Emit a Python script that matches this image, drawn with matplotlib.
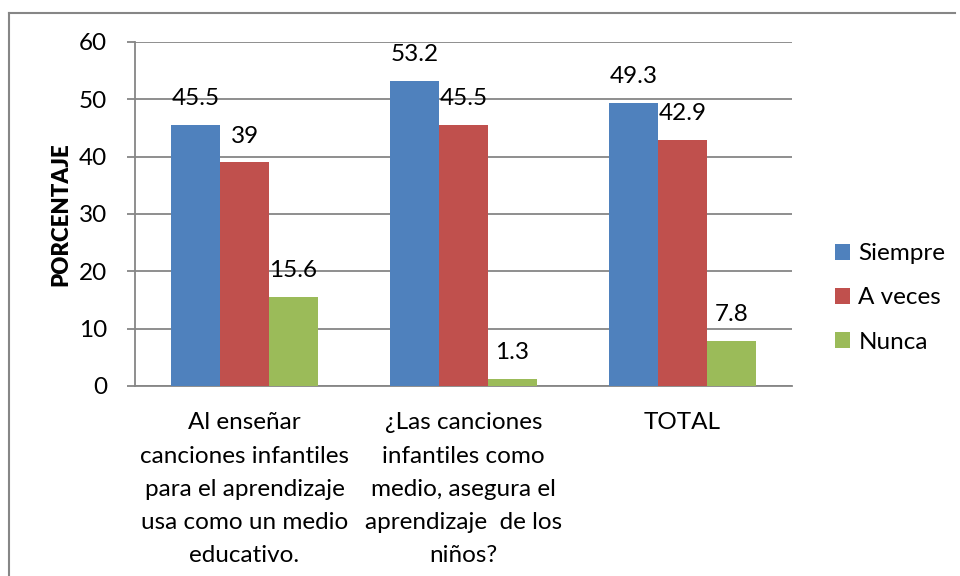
"""Gráfico de barras agrupadas: uso de canciones infantiles (porcentaje)."""

import matplotlib
matplotlib.use("Agg")
import matplotlib.pyplot as plt
import numpy as np
from matplotlib.lines import Line2D

plt.rcParams["font.family"] = ["Lato", "DejaVu Sans"]

CATEGORIES = [
    "Al enseñar\ncanciones infantiles\npara el aprendizaje\nusa como un medio\neducativo.",
    "¿Las canciones\ninfantiles como\nmedio, asegura el\naprendizaje  de los\nniños?",
    "TOTAL",
]
SERIES = ["Siempre", "A veces", "Nunca"]
SIEMPRE = [45.5, 53.2, 49.3]
A_VECES = [39, 45.5, 42.9]
NUNCA = [15.6, 1.3, 7.8]
LABELS = [["45.5", "53.2", "49.3"], ["39", "45.5", "42.9"], ["15.6", "1.3", "7.8"]]
Y_TICKS = [0, 10, 20, 30, 40, 50, 60]

COLORS = ["#4F81BD", "#C0504D", "#9BBB59"]
GRID = "#868686"
FS = 17.5

fig = plt.figure(figsize=(9.6, 5.76), dpi=100)
ax = fig.add_axes([135 / 960, 1 - 386 / 576, 657 / 960, 344 / 576])

x = np.arange(len(CATEGORIES))
w = 0.223
for i, (vals, name) in enumerate(zip([SIEMPRE, A_VECES, NUNCA], SERIES)):
    pos = x + (i - 1) * w
    ax.bar(pos, vals, width=w, color=COLORS[i], label=name, zorder=3)
    for xp, v, lab in zip(pos, vals, LABELS[i]):
        ax.annotate(lab, (xp, v), xytext=(0, 19), textcoords="offset points",
                    ha="center", va="center", fontsize=FS, color="black",
                    zorder=4)

ax.set_xlim(-0.5, 2.5)
ax.set_ylim(0, 60)
ax.set_yticks(Y_TICKS)
ax.set_yticklabels([str(t) for t in Y_TICKS], fontsize=FS)
ax.yaxis.grid(True, color=GRID, linewidth=1.3, zorder=0)
ax.tick_params(axis="y", length=6, width=1.3, color=GRID, pad=14)
ax.set_xticks(x)
ax.set_xticklabels(CATEGORIES, fontsize=FS, linespacing=1.72)
ax.tick_params(axis="x", length=0, pad=19)
for s in ["top", "right"]:
    ax.spines[s].set_visible(False)
for s in ["left", "bottom"]:
    ax.spines[s].set_color(GRID)
    ax.spines[s].set_linewidth(1.3)

ax.set_ylabel("PORCENTAJE", fontsize=16, fontweight="heavy")
ax.yaxis.set_label_coords(-0.097, 0.5)

leg = fig.legend(loc="center left", bbox_to_anchor=(830 / 960, 1 - 298 / 576),
                 frameon=False, fontsize=FS, handlelength=0.62,
                 handleheight=0.62, handletextpad=0.35, labelspacing=0.95,
                 borderaxespad=0, borderpad=0.2)

# marco exterior (solo lados izquierdo y superior visibles)
fig.add_artist(Line2D([9 / 960, 9 / 960], [0, 1 - 13 / 576],
                      transform=fig.transFigure, color=GRID, linewidth=1.5))
fig.add_artist(Line2D([9 / 960, 955 / 960], [1 - 13 / 576, 1 - 13 / 576],
                      transform=fig.transFigure, color=GRID, linewidth=1.5))

fig.savefig("out.png", dpi=100)
plt.close(fig)
